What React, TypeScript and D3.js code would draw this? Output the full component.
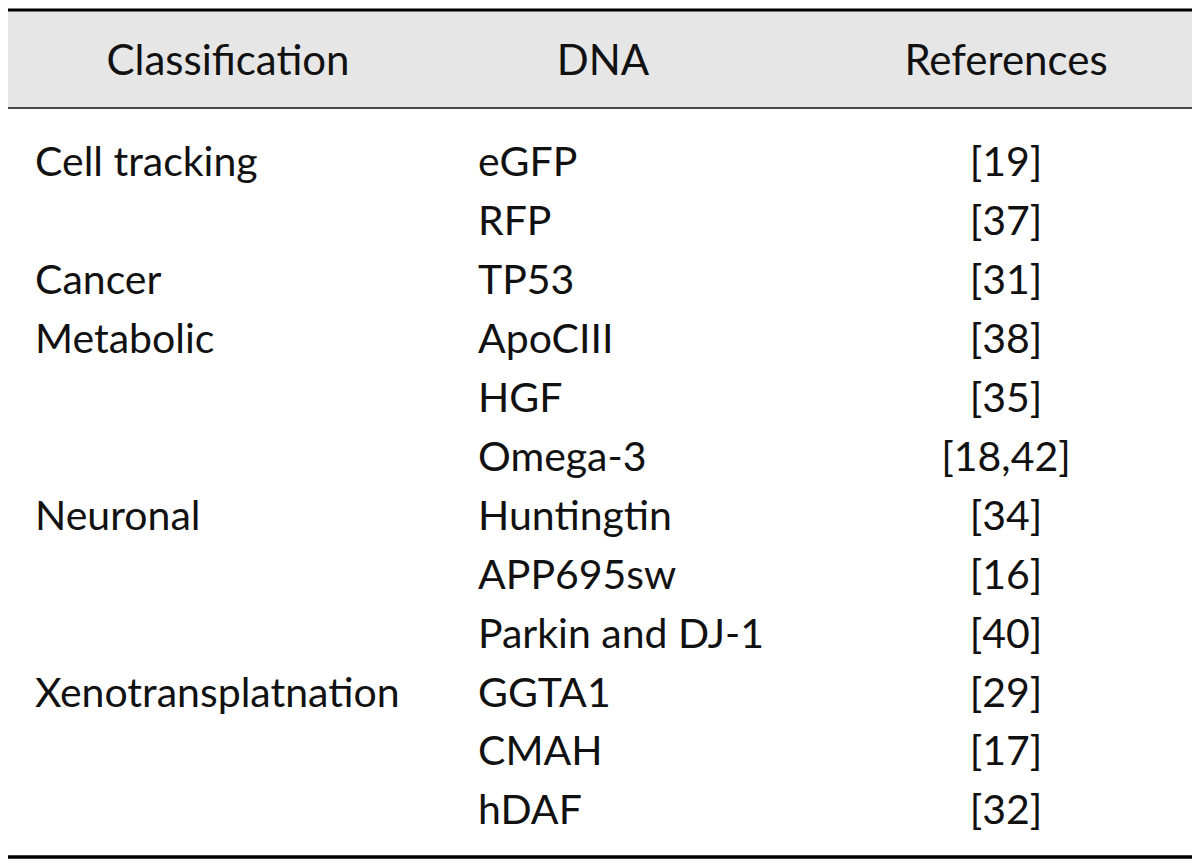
import React, { useEffect, useRef } from 'react';
import * as d3 from 'd3';

const headers = ['Classification', 'DNA', 'References'];

const classification = [
  'Cell tracking', '', 'Cancer', 'Metabolic', '', '', 'Neuronal', '', '',
  'Xenotransplatnation', '', '',
];

const dna = [
  'eGFP', 'RFP', 'TP53', 'ApoCIII', 'HGF', 'Omega-3', 'Huntingtin',
  'APP695sw', 'Parkin and DJ-1', 'GGTA1', 'CMAH', 'hDAF',
];

const references = [
  '[19]', '[37]', '[31]', '[38]', '[35]', '[18,42]', '[34]', '[16]', '[40]',
  '[29]', '[17]', '[32]',
];

const W = 1200;
const H = 867;
const FONT = 'Lato, "Open Sans", sans-serif';

function App() {
  const svgRef = useRef<SVGSVGElement>(null);

  useEffect(() => {
    const svg = d3.select(svgRef.current);
    svg.selectAll('*').remove();

    const left = 8;
    const right = 1192;

    const y = d3.scalePoint<number>()
      .domain(d3.range(dna.length))
      .range([162, 810]);

    // header band
    svg.append('rect')
      .attr('x', left).attr('y', 10)
      .attr('width', right - left).attr('height', 98)
      .attr('fill', '#e6e6e6');

    svg.append('line')
      .attr('x1', left).attr('x2', right)
      .attr('y1', 10).attr('y2', 10)
      .attr('stroke', '#000').attr('stroke-width', 3);
    svg.append('line')
      .attr('x1', left).attr('x2', right)
      .attr('y1', 108).attr('y2', 108)
      .attr('stroke', '#111').attr('stroke-width', 1.5);
    svg.append('line')
      .attr('x1', left).attr('x2', right)
      .attr('y1', 857).attr('y2', 857)
      .attr('stroke', '#000').attr('stroke-width', 3.5);

    const headerX = [228, 603, 1006];
    svg.append('g')
      .selectAll('text')
      .data(headers)
      .join('text')
      .attr('x', (_, i) => headerX[i])
      .attr('y', 60)
      .attr('dy', '0.35em')
      .attr('text-anchor', 'middle')
      .attr('font-family', FONT)
      .attr('font-size', 42)
      .attr('fill', '#111')
      .text((d) => d);

    const body = svg.append('g')
      .attr('font-family', FONT)
      .attr('font-size', 41)
      .attr('fill', '#111');

    body.selectAll('text.cls')
      .data(classification)
      .join('text')
      .attr('class', 'cls')
      .attr('x', 35)
      .attr('y', (_, i) => y(i)!)
      .attr('dy', '0.35em')
      .text((d) => d);

    body.selectAll('text.dna')
      .data(dna)
      .join('text')
      .attr('class', 'dna')
      .attr('x', 478)
      .attr('y', (_, i) => y(i)!)
      .attr('dy', '0.35em')
      .text((d) => d);

    body.selectAll('text.ref')
      .data(references)
      .join('text')
      .attr('class', 'ref')
      .attr('x', 1006)
      .attr('y', (_, i) => y(i)!)
      .attr('dy', '0.35em')
      .attr('text-anchor', 'middle')
      .text((d) => d);
  }, []);

  return (
    <svg
      ref={svgRef}
      width={W}
      height={H}
      style={{ position: 'absolute', left: 0, top: 0, background: '#fff' }}
    />
  );
}

export default App;
